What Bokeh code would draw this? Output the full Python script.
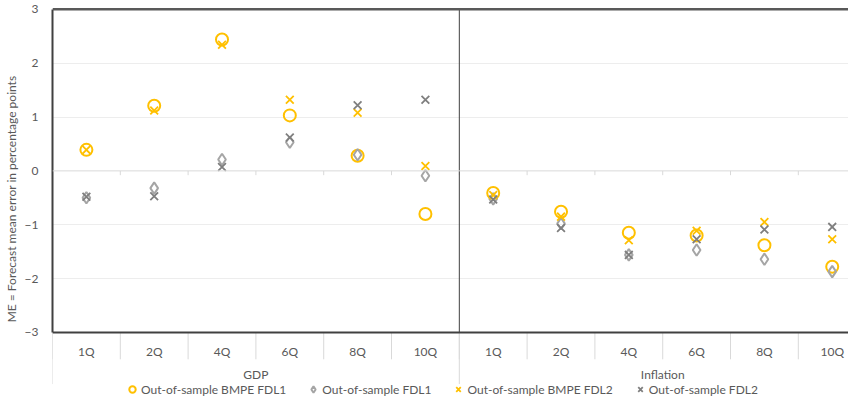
from bokeh.plotting import figure
from bokeh.models import Range1d, LinearAxis, FixedTicker, Grid, Span, Legend, LegendItem
from bokeh.core.properties import value
from bokeh.embed import file_html
from bokeh.resources import INLINE

# ---- data ----
horizons = ["1Q", "2Q", "4Q", "6Q", "8Q", "10Q"]
groups = ["GDP", "Inflation"]
bmpe_fdl1 = [0.39, 1.21, 2.44, 1.03, 0.28, -0.80, -0.41, -0.76, -1.15, -1.20, -1.38, -1.78]
fdl1 = [-0.50, -0.32, 0.21, 0.53, 0.30, -0.09, -0.52, -0.98, -1.56, -1.47, -1.64, -1.87]
bmpe_fdl2 = [0.39, 1.12, 2.34, 1.32, 1.08, 0.09, -0.45, -0.85, -1.29, -1.11, -0.95, -1.27]
fdl2 = [-0.48, -0.47, 0.07, 0.62, 1.22, 1.32, -0.53, -1.06, -1.56, -1.27, -1.09, -1.04]
y_ticks = [-3, -2, -1, 0, 1, 2, 3]
series_names = ["Out-of-sample BMPE FDL1", "Out-of-sample FDL1",
                "Out-of-sample BMPE FDL2", "Out-of-sample FDL2"]

# ---- derived positions ----
n_h = len(horizons)
n = n_h * len(groups)
xs = list(range(n))
cat_text = [horizons[i % n_h] for i in xs]
bounds = [i - 0.5 for i in range(n + 1)]
group_centers = [g * n_h + (n_h - 1) / 2 for g in range(len(groups))]
group_bounds = [g * n_h - 0.5 for g in range(len(groups) + 1)]

FONT = "Lato"
TXT = "#595959"
DARK = "#404040"
LIGHT = "#d9d9d9"

# geometry (figure pixels): frame spans FRAME_TOP..FRAME_BOT, value axis spans AX_TOP..AX_BOT
H = 397
FRAME_TOP, FRAME_BOT = 2.5, 387.0
AX_TOP, AX_BOT = 11.0, 324.0
y_lo, y_hi = y_ticks[0], y_ticks[-1]
PX = (AX_BOT - AX_TOP) / (y_hi - y_lo)
y_max = y_hi + (AX_TOP - FRAME_TOP) / PX
y_min = y_lo - (FRAME_BOT - AX_BOT) / PX
cat_y = y_lo - 18 / PX
tick_y = y_lo - 26 / PX
grp_y = y_lo - 41 / PX
grp_sep_y = y_lo - 50 / PX

styles = [
    dict(marker="circle", size=12, fill_color=None, line_color="#FFC000", line_width=2),
    dict(marker="diamond", size=11.5, fill_color=None, line_color="#A5A5A5", line_width=2),
    dict(marker="x", size=11, line_color="#FFC000", line_width=1.8),
    dict(marker="x", size=11, line_color="#7F7F7F", line_width=1.8),
]

p = figure(width=848, height=H, output_backend="svg", toolbar_location=None,
           x_range=Range1d(-0.5, 11.24), y_range=Range1d(y_min, y_max),
           x_axis_location=None, y_axis_location=None,
           min_border_left=44, min_border_right=0, min_border_top=0, min_border_bottom=0)
p.outline_line_color = None
p.background_fill_color = "white"
p.border_fill_color = "white"
p.grid.visible = False

# left axis
yaxis = LinearAxis(ticker=FixedTicker(ticks=y_ticks), bounds=(y_lo, y_hi),
                   axis_label="ME = Forecast mean error in percentage points",
                   axis_line_color=DARK, axis_line_width=2,
                   major_tick_out=0, major_tick_in=0, minor_tick_out=0, minor_tick_in=0,
                   major_label_standoff=14, axis_label_standoff=3,
                   major_label_text_font=FONT, major_label_text_font_size="12px",
                   major_label_text_color=TXT,
                   axis_label_text_font=FONT, axis_label_text_font_size="12px",
                   axis_label_text_color=TXT, axis_label_text_font_style="normal")
p.add_layout(yaxis, "left")

# gridlines and frame lines
p.add_layout(Grid(dimension=1, ticker=FixedTicker(ticks=[t for t in y_ticks if t not in (0, y_lo, y_hi)]),
                  grid_line_color="#ededed", grid_line_width=1))
p.add_layout(Span(location=0, dimension="width", line_color=LIGHT, line_width=1))
p.segment(x0=bounds, x1=bounds, y0=[0] * len(bounds), y1=[-0.08] * len(bounds),
          line_color=LIGHT, line_width=1)
p.add_layout(Span(location=y_hi, dimension="width", line_color="#595959", line_width=2.5))

# category area separators and labels
p.segment(x0=bounds, x1=bounds, y0=[y_lo] * len(bounds), y1=[tick_y] * len(bounds),
          line_color=LIGHT, line_width=1)
p.segment(x0=group_bounds, x1=group_bounds, y0=[y_lo] * len(group_bounds),
          y1=[grp_sep_y] * len(group_bounds), line_color=LIGHT, line_width=1)
p.segment(x0=[group_bounds[1]], x1=[group_bounds[1]], y0=[y_lo], y1=[y_hi],
          line_color=DARK, line_width=1)
p.add_layout(Span(location=y_lo, dimension="width", line_color=DARK, line_width=2))
p.text(x=xs, y=[cat_y] * n, text=cat_text, text_font=value(FONT), text_font_size="12px",
       text_color=TXT, text_align="center", text_baseline="middle")
p.text(x=group_centers, y=[grp_y] * len(groups), text=groups, text_font=value(FONT),
       text_font_size="12px", text_color=TXT, text_align="center", text_baseline="middle")

# series
rs = [p.scatter(x=xs, y=vals, **st) for vals, st in zip([bmpe_fdl1, fdl1, bmpe_fdl2, fdl2], styles)]

legend = Legend(items=[LegendItem(label=nm, renderers=[r]) for nm, r in zip(series_names, rs)],
                orientation="horizontal", location=(71, 0),
                border_line_color=None, background_fill_alpha=0,
                padding=0, margin=0, spacing=18,
                glyph_width=18, glyph_height=16, label_standoff=0,
                label_text_font=FONT, label_text_font_size="12px",
                label_text_color=TXT, label_height=14)
p.add_layout(legend, "center")

open("out.html", "w").write(file_html(p, INLINE))
